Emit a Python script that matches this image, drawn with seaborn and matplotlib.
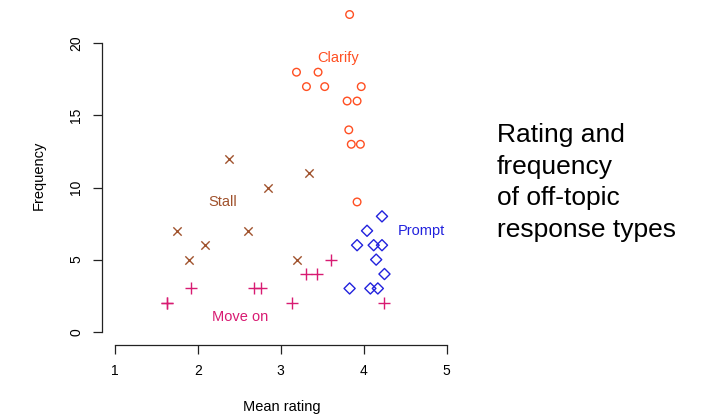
import numpy as np
import pandas as pd
import matplotlib
matplotlib.use("Agg")
import matplotlib.pyplot as plt
import seaborn as sns

# data
clarify_x = [3.83, 3.19, 3.45, 3.31, 3.53, 3.97, 3.80, 3.92, 3.82, 3.85, 3.96, 3.92]
clarify_y = [22, 18, 18, 17, 17, 17, 16, 16, 14, 13, 13, 9]
stall_x = [2.38, 3.34, 2.85, 1.75, 2.61, 2.09, 1.90, 3.20]
stall_y = [12, 11, 10, 7, 7, 6, 5, 5]
moveon_x = [1.92, 2.68, 2.76, 1.63, 1.63, 3.13, 4.25, 3.31, 3.44, 3.60]
moveon_y = [3, 3, 3, 2, 2, 2, 2, 4, 4, 5]
prompt_x = [4.22, 4.04, 3.92, 4.12, 4.22, 4.15, 4.25, 3.83, 4.08, 4.17]
prompt_y = [8, 7, 6, 6, 6, 5, 4, 3, 3, 3]

groups = ["Clarify", "Stall", "Move on", "Prompt"]
label_x = [3.69, 2.30, 2.51, 4.70]
label_y = [19, 9, 1, 7]
x_ticks = [1, 2, 3, 4, 5]
y_ticks = [0, 5, 10, 15, 20]

colors = {"Clarify": "#FF4F22", "Stall": "#A0522D", "Move on": "#D81B72", "Prompt": "#2222DD"}
markers = {"Clarify": "o", "Stall": "x", "Move on": "+", "Prompt": "D"}
sizes = {"Clarify": 30, "Stall": 36, "Move on": 70, "Prompt": 32}

df = pd.concat([
    pd.DataFrame({"rating": clarify_x, "freq": clarify_y, "type": "Clarify"}),
    pd.DataFrame({"rating": stall_x, "freq": stall_y, "type": "Stall"}),
    pd.DataFrame({"rating": moveon_x, "freq": moveon_y, "type": "Move on"}),
    pd.DataFrame({"rating": prompt_x, "freq": prompt_y, "type": "Prompt"}),
])

sns.set_style("white")
plt.rcParams["font.family"] = ["Liberation Sans", "DejaVu Sans"]
plt.rcParams["text.color"] = "black"
plt.rcParams["axes.labelcolor"] = "black"
plt.rcParams["xtick.color"] = "black"
plt.rcParams["ytick.color"] = "black"

fig = plt.figure(figsize=(7.16, 4.2), dpi=100)
ax = fig.add_axes([102 / 716, 75 / 420, 360 / 716, 340 / 420])

for g in groups:
    sub = df[df["type"] == g]
    if markers[g] in ("o", "D"):
        sns.scatterplot(data=sub, x="rating", y="freq", marker=markers[g], s=sizes[g],
                        facecolors="none", edgecolor=colors[g], linewidth=1.0, ax=ax)
    else:
        sns.scatterplot(data=sub, x="rating", y="freq", marker=markers[g], s=sizes[g],
                        color=colors[g], linewidth=1.0, ax=ax)

for g, lx, ly in zip(groups, label_x, label_y):
    ax.text(lx, ly, g, color=colors[g], fontsize=10.5, ha="center", va="center")

ax.set_xlim(0.847, 5.184)
ax.set_ylim(-0.922, 22.66)
ax.set_xticks(x_ticks)
ax.set_yticks(y_ticks)
ax.set_yticklabels([str(v) for v in y_ticks], rotation=90, va="center")
ax.spines["top"].set_visible(False)
ax.spines["right"].set_visible(False)
ax.spines["left"].set_bounds(0, 20)
ax.spines["bottom"].set_bounds(1, 5)
for sp in ("left", "bottom"):
    ax.spines[sp].set_color("#222222")
    ax.spines[sp].set_linewidth(0.9)
ax.tick_params(axis="both", direction="out", length=6.5, width=0.9, color="#222222",
               labelsize=10, pad=7, left=True, bottom=True)
ax.set_xlabel("Mean rating", fontsize=10.5, labelpad=16)
ax.set_ylabel("Frequency", fontsize=10.5, labelpad=17)

fig.text(497 / 716, 1 - 123 / 420, "Rating and\nfrequency\nof off-topic\nresponse types",
         fontsize=19, ha="left", va="top", linespacing=1.4)

fig.savefig("out.png", dpi=100)
